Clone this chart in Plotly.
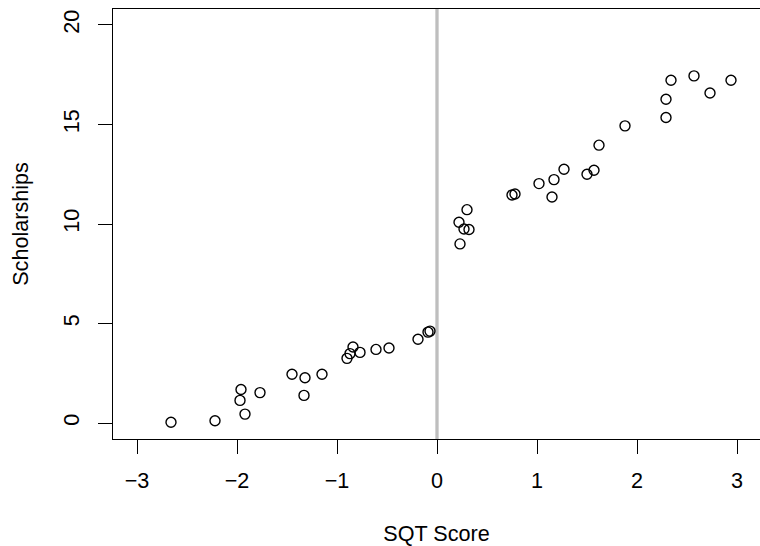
import plotly.graph_objects as go

# SQT score (x) and scholarships (y)
sqt_score = [
    -2.66, -2.22, -1.92, -1.97, -1.96, -1.77, -1.33, -1.45, -1.32, -1.15,
    -0.90, -0.87, -0.84, -0.77, -0.61, -0.48, -0.19, -0.09, -0.07,
    0.30, 0.22, 0.27, 0.32, 0.23, 0.75, 0.78, 1.02, 1.15, 1.17,
    1.27, 1.50, 1.57, 1.62, 1.88, 2.34, 2.57, 2.94, 2.73, 2.29, 2.29,
]
scholarships = [
    0.04, 0.12, 0.45, 1.14, 1.69, 1.53, 1.39, 2.45, 2.28, 2.45,
    3.25, 3.49, 3.82, 3.55, 3.70, 3.77, 4.21, 4.57, 4.62,
    10.72, 10.09, 9.75, 9.72, 9.00, 11.46, 11.51, 12.03, 11.36, 12.23,
    12.75, 12.50, 12.70, 13.96, 14.93, 17.22, 17.44, 17.22, 16.58, 16.27, 15.35,
]

x_ticks = [-3, -2, -1, 0, 1, 2, 3]
x_tick_labels = ["\u22123", "\u22122", "\u22121", "0", "1", "2", "3"]
y_ticks = [0, 5, 10, 15, 20]
y_tick_labels = ["0", "5", "10", "15", "20"]
cutoff = 0

FONT = "Liberation Sans, Arial, Helvetica, sans-serif"
FS = 21.6

fig = go.Figure()
fig.add_trace(go.Scatter(
    x=sqt_score, y=scholarships, mode="markers",
    marker=dict(symbol="circle-open", size=10, color="black",
                line=dict(color="black", width=1.4)),
    showlegend=False, cliponaxis=False, hoverinfo="skip",
))

fig.add_vline(x=cutoff, line=dict(color="#BEBEBE", width=3.3), layer="below")

fig.update_layout(
    width=760, height=546, autosize=False,
    margin=dict(l=113, r=0, t=9, b=107, pad=0),
    paper_bgcolor="white", plot_bgcolor="white",
    font=dict(family=FONT, size=FS, color="black"),
    xaxis=dict(
        range=[-3.24, 3.23], tickmode="array", tickvals=x_ticks, ticktext=x_tick_labels,
        showgrid=False, zeroline=False, showline=True, linecolor="black", linewidth=1.4,
        mirror=True, ticks="outside", ticklen=14, tickwidth=1.4, tickcolor="black",
        ticklabelstandoff=8, automargin=False,
        title=dict(text="SQT Score", standoff=37, font=dict(size=FS)),
    ),
    yaxis=dict(
        range=[-0.8, 20.8], tickmode="array", tickvals=y_ticks, ticktext=y_tick_labels,
        showgrid=False, zeroline=False, showline=True, linecolor="black", linewidth=1.4,
        mirror=False, ticks="outside", ticklen=14, tickwidth=1.4, tickcolor="black",
        tickangle=-90, ticklabelstandoff=10, automargin=False,
        title=dict(text="Scholarships", standoff=24, font=dict(size=FS)),
    ),
)

fig.write_html(
    "out.html",
    config={"displayModeBar": False},
    post_script="document.body.style.margin='0';document.body.style.overflow='hidden';",
)
